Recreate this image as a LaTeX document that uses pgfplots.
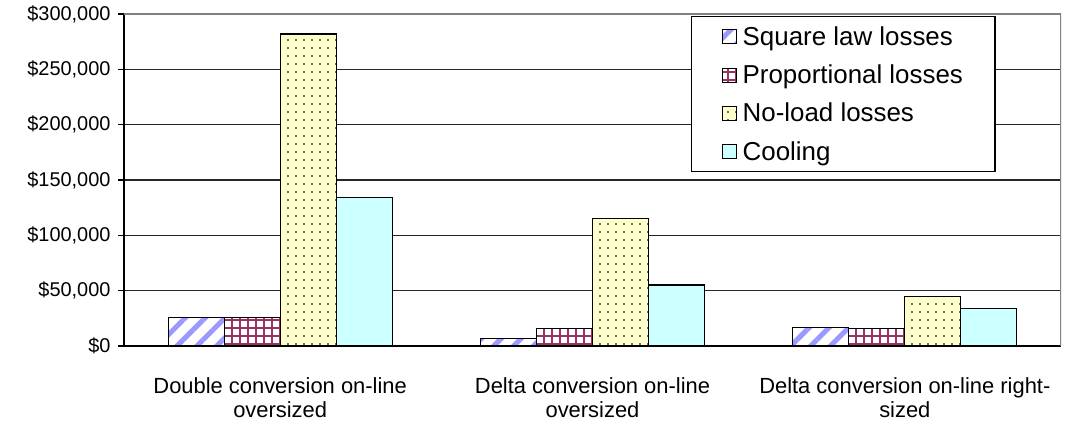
\documentclass[border=0pt]{standalone}
\usepackage{fontspec}
\setmainfont{Liberation Sans}
\usepackage{pgfplots}
\pgfplotsset{compat=1.18}
\usetikzlibrary{patterns.meta}

\definecolor{sqblue}{HTML}{9999FF}
\definecolor{propred}{HTML}{993366}
\definecolor{nlyellow}{HTML}{FFFFCC}
\definecolor{coolcyan}{HTML}{CCFFFF}

\begin{document}
\begin{tikzpicture}
\begin{axis}[
  scale only axis,
  width=937bp, height=332bp,
  ybar=0pt, bar width=56bp,
  xmin=-0.5, xmax=2.5,
  ymin=0, ymax=300000,
  scaled y ticks=false,
  axis x line*=bottom, axis y line*=left,
  axis line style={-, black, line width=1.3bp},
  x axis line style={line width=2.2bp},
  xtick={0,1,2},
  xticklabels={{Double conversion on-line\\oversized},
               {Delta conversion on-line\\oversized},
               {Delta conversion on-line right-\\sized}},
  xtick style={draw=none},
  xticklabel style={align=center, font=\fontsize{22}{24}\selectfont, yshift=-22bp},
  ytick={0,50000,100000,150000,200000,250000,300000},
  yticklabels={{\$0},{\$50,000},{\$100,000},{\$150,000},{\$200,000},{\$250,000},{\$300,000}},
  yticklabel style={font=\fontsize{20}{22}\selectfont, xshift=-4bp},
  tick align=outside, major tick length=6bp,
  ytick style={black, line width=1.2bp},
  ymajorgrids, major grid style={black!85, line width=1.2bp},
  legend cell align=left,
  legend style={at={(rel axis cs:0.605,0.994)}, anchor=north west,
    draw=black, line width=1.3bp, fill=white,
    font=\fontsize{26}{28}\selectfont,
    row sep=14bp, inner xsep=30bp, inner ysep=8bp},
  legend image code/.code={\draw[#1, line width=1bp] (0bp,-7bp) rectangle (14bp,7bp); \path (18bp,0bp);},
]
\addplot[draw=black, line width=1.3bp, fill=white,
  postaction={pattern={Lines[angle=45,distance=14bp,line width=5bp]}, pattern color=sqblue}]
  coordinates {(0,25500) (1,7000) (2,17000)};
\addplot[draw=black, line width=1.3bp, fill=white,
  postaction={pattern={Hatch[angle=0,distance=8bp,line width=1.6bp]}, pattern color=propred}]
  coordinates {(0,25500) (1,16000) (2,15500)};
\addplot[draw=black, line width=1.3bp, fill=nlyellow,
  postaction={pattern={Dots[distance=8bp,radius=1.1bp]}, pattern color=black!75}]
  coordinates {(0,282000) (1,115000) (2,45000)};
\addplot[draw=black, line width=1.3bp, fill=coolcyan]
  coordinates {(0,134000) (1,55000) (2,34000)};
\legend{Square law losses, Proportional losses, No-load losses, Cooling}
\draw[black!50, line width=1.5bp] (rel axis cs:0,1) -- (rel axis cs:1,1) -- (rel axis cs:1,0);
\draw[line width=1.2bp] (axis cs:0.5,0) -- ++(0,-7bp);
\draw[line width=1.2bp] (axis cs:1.5,0) -- ++(0,-7bp);
\end{axis}
\pgfresetboundingbox
\path (-124bp,-78bp) rectangle (950bp,346bp);
\end{tikzpicture}
\end{document}
